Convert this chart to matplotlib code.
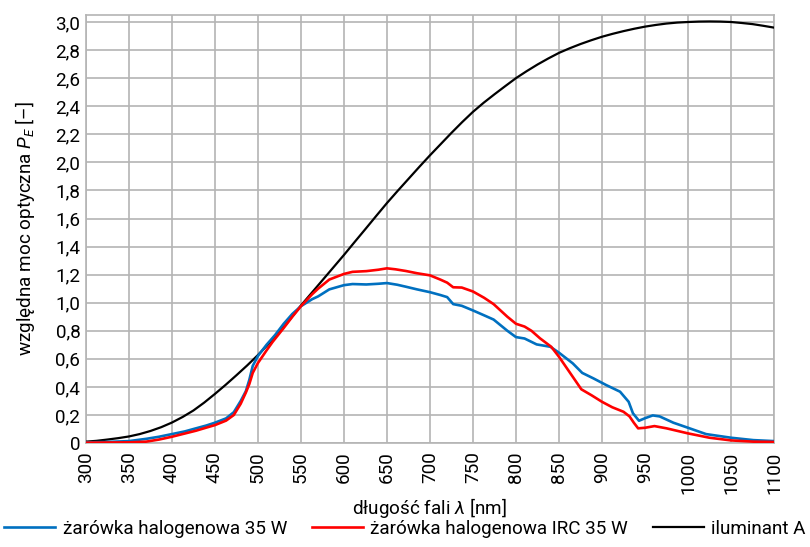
import matplotlib
matplotlib.use('Agg')
import matplotlib.pyplot as plt
from matplotlib.ticker import FixedLocator, FuncFormatter

plt.rcParams['font.family'] = ['Roboto', 'DejaVu Sans']
plt.rcParams['mathtext.fontset'] = 'custom'
plt.rcParams['mathtext.rm'] = 'Roboto'
plt.rcParams['mathtext.it'] = 'Roboto:italic'

FS = 13.6

# iluminant A
wl_a = [300, 312.5, 325, 337.5, 350, 362.5, 375, 387.5, 400, 412.5, 425, 437.5,
        450, 462.5, 475, 487.5, 500, 512.5, 525, 537.5, 550, 562.5, 575, 587.5,
        600, 612.5, 625, 637.5, 650, 662.5, 675, 687.5, 700, 712.5, 725, 737.5,
        750, 762.5, 775, 787.5, 800, 812.5, 825, 837.5, 850, 862.5, 875, 887.5,
        900, 912.5, 925, 937.5, 950, 962.5, 975, 987.5, 1000, 1012.5, 1025,
        1037.5, 1050, 1062.5, 1075, 1087.5, 1100]
pe_a = [0.01, 0.016, 0.025, 0.035, 0.047, 0.064, 0.086, 0.113, 0.146, 0.186,
        0.232, 0.288, 0.35, 0.415, 0.483, 0.553, 0.627, 0.707, 0.79, 0.883,
        0.98, 1.07, 1.16, 1.25, 1.34, 1.433, 1.525, 1.618, 1.71, 1.797, 1.882,
        1.967, 2.05, 2.13, 2.21, 2.287, 2.36, 2.425, 2.485, 2.543, 2.60, 2.65,
        2.697, 2.74, 2.78, 2.813, 2.843, 2.87, 2.895, 2.916, 2.935, 2.952, 2.967,
        2.979, 2.989, 2.996, 3.0, 3.003, 3.004, 3.003, 3.0, 2.993, 2.985, 2.973,
        2.96]

# żarówka halogenowa 35 W
wl_h = [300, 325, 350, 370, 385, 400, 415, 428, 440, 450, 463, 472, 480, 486,
        490, 494, 500, 510, 520, 530, 540, 550, 563, 570, 583, 600, 610, 626,
        640, 650, 662, 672, 685, 700, 712, 720, 727, 737, 750, 763, 774, 790,
        800, 810, 824, 840, 850, 866, 877, 890, 905, 921, 931, 936, 943, 950,
        959, 967, 983, 1000, 1021, 1050, 1076, 1100]
pe_h = [0.005, 0.008, 0.014, 0.03, 0.045, 0.064, 0.083, 0.105, 0.125, 0.145,
        0.176, 0.22, 0.30, 0.37, 0.45, 0.55, 0.62, 0.70, 0.77, 0.85, 0.92, 0.975,
        1.025, 1.045, 1.095, 1.125, 1.133, 1.13, 1.135, 1.14, 1.128, 1.114, 1.095,
        1.075, 1.055, 1.04, 0.99, 0.978, 0.945, 0.91, 0.88, 0.80,
        0.755, 0.745, 0.703, 0.686, 0.644, 0.568, 0.50, 0.461, 0.413, 0.366,
        0.294, 0.212, 0.159, 0.177, 0.197, 0.19, 0.145, 0.109, 0.064, 0.038,
        0.021, 0.014]

# żarówka halogenowa IRC 35 W
wl_irc = [300, 325, 350, 370, 385, 400, 415, 428, 440, 450, 463, 472, 480, 486,
          490, 494, 500, 510, 517, 530, 540, 550, 563, 570, 583, 600, 610, 626,
          640, 650, 660, 672, 685, 700, 712, 720, 727, 737, 750, 763, 774, 790,
          800, 810, 818, 828, 841, 850, 862, 876, 888, 900, 912, 925, 932, 937,
          942, 950, 961, 975, 1000, 1025, 1050, 1076, 1100]
pe_irc = [0.003, 0.004, 0.005, 0.01, 0.025, 0.045, 0.068, 0.088, 0.11, 0.128,
          0.16, 0.20, 0.28, 0.36, 0.42, 0.50, 0.57, 0.66, 0.72, 0.82, 0.90, 0.975,
          1.06, 1.10, 1.165, 1.205, 1.22, 1.225, 1.235, 1.245, 1.238, 1.226, 1.21,
          1.195, 1.165, 1.143, 1.11, 1.108, 1.08, 1.035, 0.99, 0.90,
          0.85, 0.83, 0.80, 0.746, 0.686, 0.615, 0.508, 0.383, 0.34, 0.294,
          0.255, 0.223, 0.19, 0.145, 0.105, 0.109, 0.121, 0.105, 0.069, 0.038,
          0.019, 0.01, 0.008]

x_ticks = list(range(300, 1101, 50))
y_ticks = [round(0.2 * i, 1) for i in range(16)]

fig = plt.figure(figsize=(8.1, 5.47), dpi=100)
ax = fig.add_axes([0.106, 0.19, 0.8496, 0.7826])

ax.plot(wl_a, pe_a, color='black', lw=1.6, label='iluminant A', zorder=3)
ax.plot(wl_h, pe_h, color='#0070C0', lw=1.9, label='żarówka halogenowa 35 W', zorder=4)
ax.plot(wl_irc, pe_irc, color='#FF0000', lw=1.9, label='żarówka halogenowa IRC 35 W', zorder=5)

ax.set_xlim(300, 1100)
ax.set_ylim(0, 3.05)
ax.xaxis.set_major_locator(FixedLocator(x_ticks))
ax.yaxis.set_major_locator(FixedLocator(y_ticks))
ax.yaxis.set_major_formatter(FuncFormatter(
    lambda v, p: '0' if v == 0 else f'{v:.1f}'.replace('.', ',')))
ax.tick_params(length=0, labelsize=FS)
ax.tick_params(axis='y', pad=4)
ax.tick_params(axis='x', labelrotation=90, pad=6)
ax.grid(True, color='#b4b4b4', lw=1.2)
for s in ax.spines.values():
    s.set_color('#b4b4b4')
    s.set_linewidth(1.2)

ax.set_xlabel('długość fali $\\lambda$ [nm]', fontsize=FS, labelpad=2)
ax.set_ylabel('względna moc optyczna $P_E$ [–]', fontsize=FS, labelpad=13)

h, l = ax.get_legend_handles_labels()
order = [1, 2, 0]
fig.legend([h[i] for i in order], [l[i] for i in order], loc='center',
           bbox_to_anchor=(0.5, 0.033), ncol=3, frameon=False, fontsize=FS,
           handlelength=2.7, handletextpad=0.4, columnspacing=1.3)

fig.savefig('out.png', dpi=100)
